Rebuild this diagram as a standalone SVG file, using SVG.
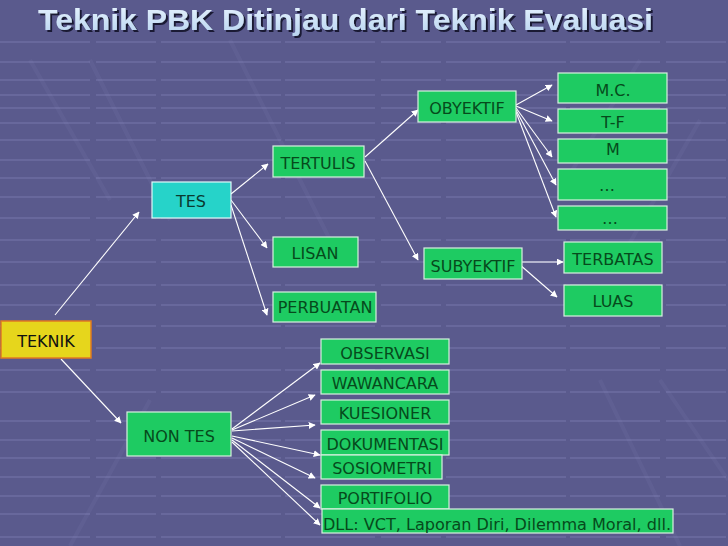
<svg xmlns="http://www.w3.org/2000/svg" width="728" height="546" viewBox="0 0 728 546">
<defs>
<style>
.bg{fill:#5a5a8d}
.hl{stroke:#9a9ad0;stroke-width:1.2;opacity:0.45}
.dl{stroke:#6a6a9e;stroke-width:4;opacity:0.35}
.box{fill:#1ecb62;stroke:#d8f0e0;stroke-width:1.2}
.t{font-family:"DejaVu Sans",Verdana,sans-serif;font-size:16px;fill:#064a1c;text-anchor:middle}
.e{stroke:#ffffff;stroke-width:1.1;fill:none;marker-end:url(#ah)}
.title{font-family:"Liberation Sans",Arial,sans-serif;font-weight:bold;font-size:30px}
</style>
<marker id="ah" viewBox="0 0 10 10" refX="9" refY="5" markerWidth="7" markerHeight="7" orient="auto" markerUnits="userSpaceOnUse">
<path d="M0,0 L10,5 L0,10 z" fill="#ffffff"/>
</marker>
<linearGradient id="tg" x1="0" y1="0" x2="0" y2="1">
<stop offset="0" stop-color="#e8f4ff"/>
<stop offset="1" stop-color="#b8d4f0"/>
</linearGradient>
<filter id="sh" x="-5%" y="-30%" width="110%" height="160%">
<feDropShadow dx="2" dy="2" stdDeviation="0.6" flood-color="#15152e" flood-opacity="0.95"/>
</filter>
</defs>
<rect class="bg" x="0" y="0" width="728" height="546"/>
<g id="background-lines">
<path class="dl" d="M30,60 L110,200 M90,60 L170,220 M230,40 L330,240 M600,380 L680,546 M660,380 L728,480 M70,546 L150,400 M640,60 L560,190 M700,120 L620,260"/>
<path class="hl" d="M0,42 H728 M0,62 H728 M0,80 H728 M0,95 H728 M0,108 H728 M0,123 H728 M0,140 H728 M0,160 H728 M0,178 H728 M0,197 H728 M0,218 H728 M0,240 H728 M0,262 H728 M0,285 H728 M0,305 H728 M0,326 H728 M0,348 H728 M0,370 H728 M0,392 H728 M0,421 H728 M0,440 H728 M0,458 H728 M0,477 H728 M0,496 H728 M0,514 H728 M0,537 H728" stroke-dasharray="90 6 60 5 120 4"/>
</g>
<g id="title">
<text class="title" x="38" y="30" textLength="615" lengthAdjust="spacingAndGlyphs" fill="url(#tg)" filter="url(#sh)">Teknik PBK Ditinjau dari Teknik Evaluasi</text>
</g>
<g id="connectors">
<line class="e" x1="55" y1="315" x2="139" y2="212"/>
<line class="e" x1="61" y1="359" x2="121" y2="423"/>
<line class="e" x1="231" y1="194" x2="268" y2="164"/>
<line class="e" x1="231" y1="200" x2="267" y2="248"/>
<line class="e" x1="231" y1="205" x2="267" y2="315"/>
<line class="e" x1="365" y1="157" x2="418" y2="110"/>
<line class="e" x1="365" y1="161" x2="418" y2="260"/>
<line class="e" x1="516" y1="105" x2="552" y2="85"/>
<line class="e" x1="516" y1="106" x2="552" y2="121"/>
<line class="e" x1="516" y1="108" x2="552" y2="157"/>
<line class="e" x1="516" y1="110" x2="556" y2="185"/>
<line class="e" x1="516" y1="112" x2="556" y2="217"/>
<line class="e" x1="522" y1="262" x2="563" y2="262"/>
<line class="e" x1="519" y1="264" x2="557" y2="297"/>
<line class="e" x1="232" y1="429" x2="320" y2="363"/>
<line class="e" x1="232" y1="430" x2="315" y2="395"/>
<line class="e" x1="232" y1="431" x2="315" y2="425"/>
<line class="e" x1="232" y1="436" x2="320" y2="455"/>
<line class="e" x1="232" y1="438" x2="315" y2="478"/>
<line class="e" x1="232" y1="440" x2="320" y2="508"/>
<line class="e" x1="232" y1="442" x2="320" y2="525"/>
</g>
<g id="teknik">
<rect x="1" y="321" width="90" height="37" fill="#e6d61c" stroke="#e07a22" stroke-width="1.5"/>
<text class="t" x="46" y="347" style="fill:#111">TEKNIK</text>
</g>
<g id="tes">
<rect x="152" y="182" width="79" height="36" fill="#26d3c9" stroke="#e0f8f8" stroke-width="1.2"/>
<text class="t" x="191" y="207" style="fill:#0a3a30">TES</text>
</g>
<g id="non-tes">
<rect class="box" x="127" y="412" width="104" height="44"/>
<text class="t" x="179" y="442">NON TES</text>
</g>
<g id="tertulis">
<rect class="box" x="273" y="146" width="91" height="31"/>
<text class="t" x="318" y="169">TERTULIS</text>
</g>
<g id="lisan">
<rect class="box" x="273" y="237" width="85" height="30"/>
<text class="t" x="315" y="259">LISAN</text>
</g>
<g id="perbuatan">
<rect class="box" x="273" y="292" width="103" height="30"/>
<text class="t" x="325" y="313">PERBUATAN</text>
</g>
<g id="obyektif">
<rect class="box" x="418" y="91" width="98" height="31"/>
<text class="t" x="467" y="114">OBYEKTIF</text>
</g>
<g id="subyektif">
<rect class="box" x="424" y="248" width="98" height="31"/>
<text class="t" x="473" y="272">SUBYEKTIF</text>
</g>
<g id="mc">
<rect class="box" x="558" y="73" width="109" height="30"/>
<text class="t" x="613" y="96">M.C.</text>
</g>
<g id="tf">
<rect class="box" x="558" y="109" width="109" height="24"/>
<text class="t" x="613" y="128">T-F</text>
</g>
<g id="m">
<rect class="box" x="558" y="139" width="109" height="24"/>
<text class="t" x="613" y="155">M</text>
</g>
<g id="dots1">
<rect class="box" x="558" y="169" width="109" height="31"/>
<text class="t" x="607" y="191">…</text>
</g>
<g id="dots2">
<rect class="box" x="558" y="206" width="109" height="24"/>
<text class="t" x="610" y="224">…</text>
</g>
<g id="terbatas">
<rect class="box" x="564" y="242" width="98" height="31"/>
<text class="t" x="613" y="265">TERBATAS</text>
</g>
<g id="luas">
<rect class="box" x="564" y="285" width="98" height="31"/>
<text class="t" x="613" y="307">LUAS</text>
</g>
<g id="observasi">
<rect class="box" x="321" y="339" width="128" height="25"/>
<text class="t" x="385" y="359">OBSERVASI</text>
</g>
<g id="wawancara">
<rect class="box" x="321" y="370" width="128" height="24"/>
<text class="t" x="385" y="389">WAWANCARA</text>
</g>
<g id="kuesioner">
<rect class="box" x="321" y="400" width="128" height="24"/>
<text class="t" x="385" y="419">KUESIONER</text>
</g>
<g id="dokumentasi">
<rect class="box" x="321" y="430" width="128" height="25"/>
<text class="t" x="385" y="450">DOKUMENTASI</text>
</g>
<g id="sosiometri">
<rect class="box" x="321" y="455" width="121" height="24"/>
<text class="t" x="382" y="474">SOSIOMETRI</text>
</g>
<g id="portifolio">
<rect class="box" x="321" y="485" width="128" height="24"/>
<text class="t" x="385" y="504">PORTIFOLIO</text>
</g>
<g id="dll">
<rect class="box" x="322" y="509" width="351" height="24"/>
<text class="t" x="323" y="530" style="text-anchor:start" textLength="348" lengthAdjust="spacingAndGlyphs">DLL: VCT, Laporan Diri, Dilemma Moral, dll.</text>
</g>
</svg>
